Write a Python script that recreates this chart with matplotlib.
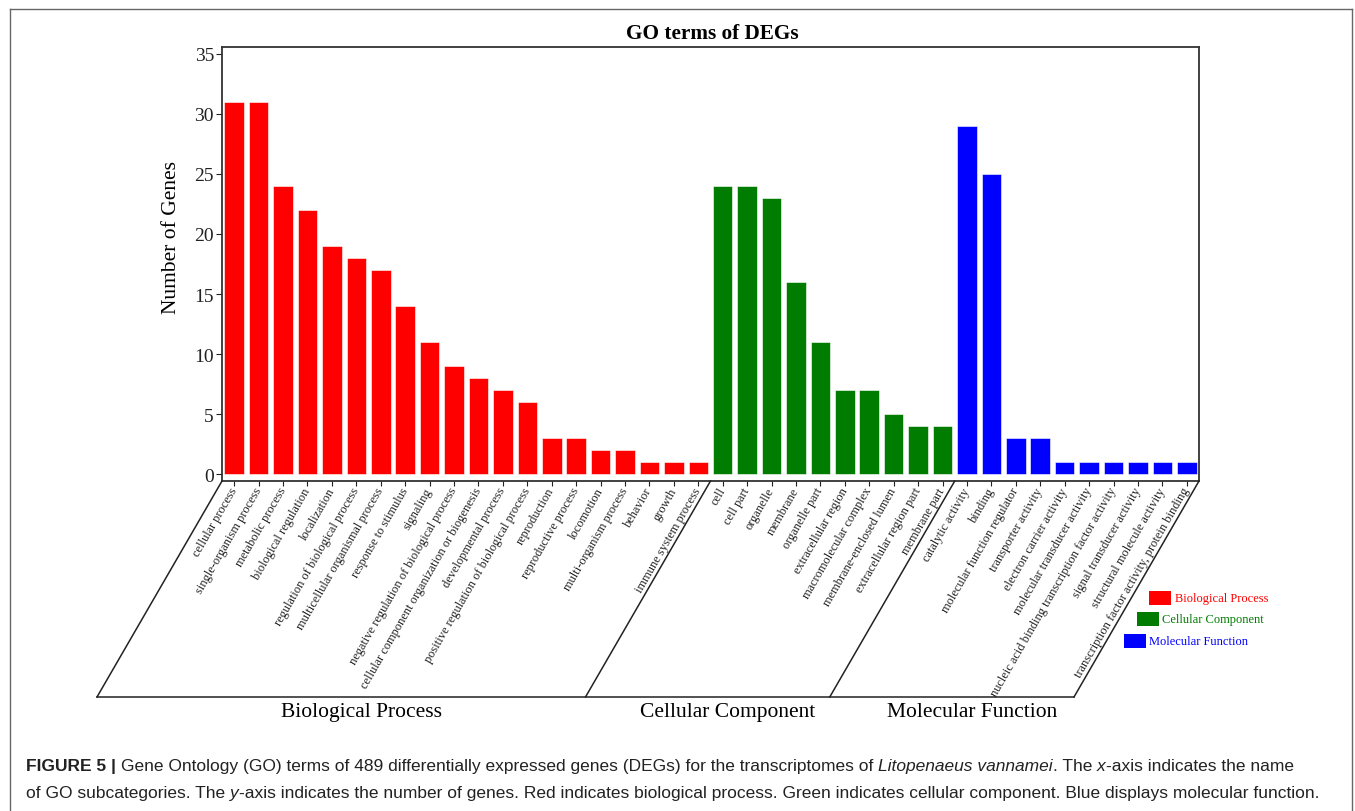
import matplotlib
matplotlib.use("Agg")
import matplotlib.pyplot as plt
from matplotlib import font_manager
from matplotlib.lines import Line2D
from matplotlib.patches import Rectangle

# ---- data ----
bp_terms = ["cellular process", "single-organism process", "metabolic process",
            "biological regulation", "localization", "regulation of biological process",
            "multicellular organismal process", "response to stimulus", "signaling",
            "negative regulation of biological process",
            "cellular component organization or biogenesis", "developmental process",
            "positive regulation of biological process", "reproduction",
            "reproductive process", "locomotion", "multi-organism process", "behavior",
            "growth", "immune system process"]
bp_counts = [31, 31, 24, 22, 19, 18, 17, 14, 11, 9, 8, 7, 6, 3, 3, 2, 2, 1, 1, 1]

cc_terms = ["cell", "cell part", "organelle", "membrane", "organelle part",
            "extracellular region", "macromolecular complex", "membrane-enclosed lumen",
            "extracellular region part", "membrane part"]
cc_counts = [24, 24, 23, 16, 11, 7, 7, 5, 4, 4]

mf_terms = ["catalytic activity", "binding", "molecular function regulator",
            "transporter activity", "electron carrier activity",
            "molecular transducer activity",
            "nucleic acid binding transcription factor activity",
            "signal transducer activity", "structural molecule activity",
            "transcription factor activity, protein binding"]
mf_counts = [29, 25, 3, 3, 1, 1, 1, 1, 1, 1]

groups = ["Biological Process", "Cellular Component", "Molecular Function"]
colors = ["#ff0000", "#007c00", "#0000ff"]

W, H = 1355, 812
SERIF = "Liberation Serif"
names = {f.name for f in font_manager.fontManager.ttflist}
CAP_FONT = "Liberation Sans Narrow" if "Liberation Sans Narrow" in names else "Liberation Sans"

fig = plt.figure(figsize=(W / 100, H / 100), dpi=100)
fig.patch.set_facecolor("white")


def fx(x):
    return x / W


def fy(y):
    return 1 - y / H


ax = fig.add_axes([fx(222), fy(482), (1199 - 222) / W, (482 - 48) / H])

terms = bp_terms + cc_terms + mf_terms
counts = bp_counts + cc_counts + mf_counts
sizes = [len(bp_terms), len(cc_terms), len(mf_terms)]
bar_cols = []
for c, n in zip(colors, sizes):
    bar_cols += [c] * n
xs = list(range(len(terms)))

ax.bar(xs, counts, width=0.8, color=bar_cols, edgecolor="white", linewidth=0.4)
ax.set_xlim(-0.5, len(terms) - 0.5)
ax.set_ylim(-0.583, 35.583)
ax.set_yticks(range(0, 36, 5))
ax.set_yticklabels([str(v) for v in range(0, 36, 5)], fontfamily=SERIF, fontsize=14)
ax.set_xticks(xs)
ax.set_xticklabels(terms, rotation=60, ha="right", va="center",
                   rotation_mode="anchor", fontfamily=SERIF, fontsize=8.9)
ax.tick_params(axis="x", direction="out", length=3.6, width=0.8, pad=1.5, colors="#222222")
ax.tick_params(axis="y", direction="out", length=4.3, width=0.8, pad=1.5, colors="#222222")
for s in ax.spines.values():
    s.set_linewidth(1.3)
    s.set_color("#333333")

fig.text(fx(712), fy(34), "GO terms of DEGs", fontfamily=SERIF, fontweight="bold",
         fontsize=15.3, ha="center", va="center")
fig.text(fx(171), fy(238), "Number of Genes", fontfamily=SERIF, fontsize=15.5,
         rotation=90, ha="center", va="center")

# ---- slanted group brackets under the axis ----
fig.canvas.draw()
bounds = [-0.5]
acc = -0.5
for n in sizes:
    acc += n
    bounds.append(acc)
y_top = 482
y_bot = 698
shift = 125
tops = [ax.transData.transform((b, 0))[0] * W / fig.bbox.width for b in bounds]
for t in tops:
    fig.add_artist(Line2D([fx(t), fx(t - shift)], [fy(y_top), fy(y_bot)],
                          color="#222222", lw=1.1))
fig.add_artist(Line2D([fx(tops[0] - shift), fx(tops[-1] - shift)], [fy(y_bot), fy(y_bot)],
                      color="#222222", lw=1.1))
for i, g in enumerate(groups):
    cx = (tops[i] + tops[i + 1]) / 2 - shift + 20
    fig.text(fx(cx), fy(713), g, fontfamily=SERIF, fontsize=15.5, ha="center", va="center")

# ---- legend ----
leg_pos = [(1149, 592, 1175), (1137, 613, 1162), (1124, 635, 1149)]
for (lx, ly, tx), g, c in zip(leg_pos, groups, colors):
    fig.add_artist(Rectangle((fx(lx), fy(ly + 14)), 22 / W, 14 / H, transform=fig.transFigure,
                             facecolor=c, edgecolor="none"))
    fig.text(fx(tx), fy(ly + 7), g, color=c, fontfamily=SERIF, fontsize=9,
             ha="left", va="center")

# ---- outer frame (open at the bottom) ----
frame_col = "#666666"
fig.add_artist(Line2D([fx(10), fx(10)], [fy(10), 0], color=frame_col, lw=1.0))
fig.add_artist(Line2D([fx(1352), fx(1352)], [fy(10), 0], color=frame_col, lw=1.0))
fig.add_artist(Line2D([fx(10), fx(1352)], [fy(10), fy(10)], color=frame_col, lw=1.0))

# ---- caption ----
cap1 = [("FIGURE 5 |", "bold", False),
        ("Gene Ontology (GO) terms of 489 differentially expressed genes (DEGs) for the transcriptomes of", "normal", True),
        ("Litopenaeus vannamei", "italic", True),
        (". The", "normal", False),
        ("x", "italic", True),
        ("-axis indicates the name", "normal", False)]
cap2 = [("of GO subcategories. The", "normal", False),
        ("y", "italic", True),
        ("-axis indicates the number of genes. Red indicates biological process. Green indicates cellular component. Blue displays molecular function.", "normal", False)]

renderer = fig.canvas.get_renderer()


def seg_widths(segs, size):
    out = []
    for txt, sty, gap in segs:
        t = fig.text(0, 0, txt, fontfamily=CAP_FONT, fontsize=size,
                     fontweight="bold" if sty == "bold" else "normal",
                     fontstyle="italic" if sty == "italic" else "normal")
        out.append(t.get_window_extent(renderer).width * W / fig.bbox.width)
        t.remove()
    a = fig.text(0, 0, "a a", fontfamily=CAP_FONT, fontsize=size)
    b = fig.text(0, 0, "aa", fontfamily=CAP_FONT, fontsize=size)
    sp = (a.get_window_extent(renderer).width - b.get_window_extent(renderer).width) * W / fig.bbox.width
    a.remove()
    b.remove()
    return out, sp


def draw_caption(segs, x0, x1, yc):
    base = 12
    ws, sp = seg_widths(segs, base)
    total = sum(ws) + sp * sum(1 for s in segs if s[2])
    size = base * (x1 - x0) / total
    ws, sp = seg_widths(segs, size)
    x = x0
    for (txt, sty, gap), w in zip(segs, ws):
        if gap:
            x += sp
        fig.text(fx(x), fy(yc), txt, fontfamily=CAP_FONT, fontsize=size, color="#222222",
                 fontweight="bold" if sty == "bold" else "normal",
                 fontstyle="italic" if sty == "italic" else "normal",
                 ha="left", va="center")
        x += w


draw_caption(cap1, 26, 1297, 767)
draw_caption(cap2, 26, 1322, 794)

fig.savefig("out.png", dpi=100, facecolor="white")
